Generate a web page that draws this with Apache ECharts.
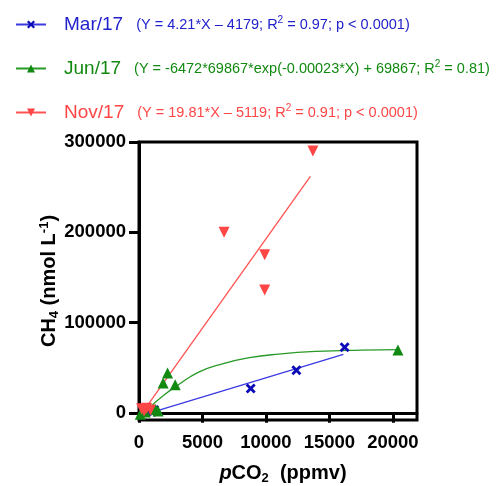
<!DOCTYPE html>
<html>
<head>
<meta charset="utf-8">
<script src="https://cdn.jsdelivr.net/npm/echarts@6/dist/echarts.min.js"></script>
<style>
  html, body { margin: 0; padding: 0; background: #fff; }
  #chart { width: 501px; height: 486px; }
</style>
</head>
<body>
<div id="chart"></div>
<script>
// values: [pCO2 (ppmv), CH4 (nmol/L)]
var marPoints = [[700, 2000], [1000, 1000], [1200, 3000], [8800, 27000], [12400, 47000], [16200, 72500]];
var junPoints = [[100, -1500], [500, 1000], [1300, 3500], [1500, 2000], [1900, 33000], [2250, 44000], [2850, 31000], [20400, 69500]];
var novPoints = [[200, 4500], [400, 2000], [600, 5000], [900, 3000], [6700, 200000], [9900, 175000], [9900, 136000], [13700, 290000]];

// fitted lines as drawn on the picture
var marFit = [[1000, 500], [16100, 64600]];
var junFit = [[400, 0], [1000, 8000], [2000, 20000], [3000, 30000], [4700, 45000], [6500, 54000],
              [8700, 61000], [11000, 65000], [14000, 68000], [17500, 69500], [20400, 70000]];
var novFit = [[250, 0], [13500, 262000]];

var seriesNames = ['Mar/17', 'Jun/17', 'Nov/17'];
// fit text split around the superscript of R2
var fitBefore = ['(Y = 4.21*X \u2013 4179; R', '(Y = -6472*69867*exp(-0.00023*X) + 69867; R', '(Y = 19.81*X \u2013 5119; R'];
var fitAfter = [' = 0.97; p < 0.0001)', ' = 0.81)', ' = 0.91; p < 0.0001)'];

var xTicks = [0, 5000, 10000, 15000, 20000];
var yTicks = [0, 100000, 200000, 300000];

var colors = ['#0b0bb8', '#128a12', '#ff4646'];
var textColors = ['#2222cc', '#128a12', '#ff4646'];
var crossPath = 'path://M0,2 L2,0 L5,3 L8,0 L10,2 L7,5 L10,8 L8,10 L5,7 L2,10 L0,8 L3,5 Z';

var rich = {};
textColors.forEach(function (c, i) {
    rich['n' + i] = { color: c, fontSize: 19, padding: [0, 13, 0, 13], fontFamily: 'Liberation Sans' };
    rich['e' + i] = { color: c, fontSize: 14.5, fontFamily: 'Liberation Sans' };
    rich['s' + i] = { color: c, fontSize: 10, padding: [0, 0, 9, 0], fontFamily: 'Liberation Sans' };
});

var myChart = echarts.init(document.getElementById('chart'));

var option = {
    animation: false,
    legend: {
        orient: 'vertical',
        left: 10,
        top: 10,
        itemWidth: 30,
        itemHeight: 10,
        itemGap: 25,
        data: seriesNames,
        formatter: function (name) {
            var i = seriesNames.indexOf(name);
            return '{n' + i + '|' + name + '}{e' + i + '|' + fitBefore[i] + '}{s' + i + '|2}{e' + i + '|' + fitAfter[i] + '}';
        },
        textStyle: { rich: rich }
    },
    grid: {
        left: 139,
        right: 84,
        top: 142,
        bottom: 66,
        outerBoundsMode: 'none',
        show: true,
        borderColor: '#000',
        borderWidth: 3
    },
    xAxis: {
        type: 'value',
        min: 0,
        max: 21900,
        name: '{i|p}CO{sub|2}  (ppmv)',
        nameLocation: 'middle',
        nameGap: 42,
        nameMoveOverlap: false,
        nameTextStyle: {
            color: '#000',
            fontSize: 20,
            fontWeight: 'bold',
            fontFamily: 'Liberation Sans',
            padding: [0, 0, 0, 10],
            rich: {
                i: { fontStyle: 'italic', fontWeight: 'bold', fontSize: 20, fontFamily: 'Liberation Sans' },
                sub: { fontSize: 13, fontWeight: 'bold', padding: [10, 0, 0, 0], fontFamily: 'Liberation Sans' }
            }
        },
        axisLine: { show: true, lineStyle: { color: '#000', width: 3 } },
        axisTick: { show: true, length: 10, lineStyle: { color: '#000', width: 3 }, customValues: xTicks },
        axisLabel: {
            color: '#000', fontSize: 18.5, fontWeight: 'bold', fontFamily: 'Liberation Sans', margin: 13,
            customValues: xTicks,
            formatter: function (v) { return String(v); }
        },
        splitLine: { show: false }
    },
    yAxis: {
        type: 'value',
        min: -8000,
        max: 300000,
        name: 'CH{sub|4} (nmol L{sup|-1})',
        nameLocation: 'middle',
        nameGap: 78,
        nameMoveOverlap: false,
        nameTextStyle: {
            color: '#000',
            fontSize: 20,
            fontWeight: 'bold',
            fontFamily: 'Liberation Sans',
            rich: {
                sub: { fontSize: 13, fontWeight: 'bold', padding: [10, 0, 0, 0], fontFamily: 'Liberation Sans' },
                sup: { fontSize: 13, fontWeight: 'bold', padding: [0, 0, 10, 0], fontFamily: 'Liberation Sans' }
            }
        },
        axisLine: { show: true, lineStyle: { color: '#000', width: 3 } },
        axisTick: { show: true, length: 10, lineStyle: { color: '#000', width: 3 }, customValues: yTicks },
        axisLabel: {
            color: '#000', fontSize: 18.5, fontWeight: 'bold', fontFamily: 'Liberation Sans', margin: 13,
            customValues: yTicks,
            formatter: function (v) { return String(v); }
        },
        splitLine: { show: false }
    },
    series: [
        {
            name: 'Mar/17', type: 'line', data: marFit, symbol: crossPath, symbolSize: 9, showSymbol: false,
            lineStyle: { color: '#3a3ae0', width: 1.3 }, itemStyle: { color: colors[0] }, z: 2
        },
        {
            name: 'Jun/17', type: 'line', data: junFit, smooth: true, symbol: 'triangle', symbolSize: 9, showSymbol: false,
            lineStyle: { color: '#279a27', width: 1.3 }, itemStyle: { color: colors[1] }, z: 2
        },
        {
            name: 'Nov/17', type: 'line', data: novFit, symbol: 'triangle', symbolRotate: 180, symbolSize: 9, showSymbol: false,
            lineStyle: { color: '#ff5252', width: 1.3 }, itemStyle: { color: colors[2] }, z: 2
        },
        {
            name: 'Mar/17', type: 'scatter', data: marPoints, symbol: crossPath, symbolSize: 10,
            itemStyle: { color: colors[0], opacity: 1 }, z: 3
        },
        {
            name: 'Jun/17', type: 'scatter', data: junPoints, symbol: 'triangle', symbolSize: 11,
            itemStyle: { color: colors[1], opacity: 1 }, z: 3
        },
        {
            name: 'Nov/17', type: 'scatter', data: novPoints, symbol: 'triangle', symbolRotate: 180, symbolSize: 11,
            itemStyle: { color: colors[2], opacity: 1 }, z: 3
        }
    ]
};

myChart.setOption(option);
window.addEventListener('resize', myChart.resize);
</script>
</body>
</html>
